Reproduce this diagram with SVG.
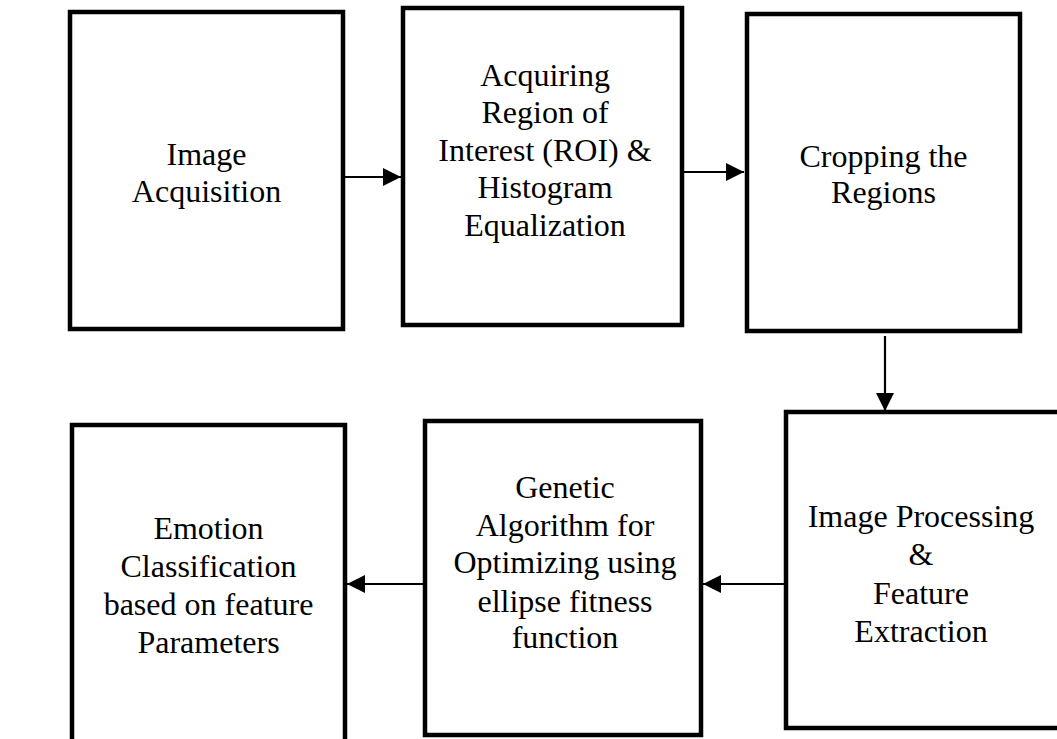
<svg xmlns="http://www.w3.org/2000/svg" width="1057" height="739" viewBox="0 0 1057 739">
<style>
.box{fill:#fff;stroke:#000;stroke-width:4.5}
.lbl{font-family:"Liberation Serif","Times New Roman",serif;font-size:32px;fill:#000;text-anchor:middle}
.conn{stroke:#000;stroke-width:2.2;fill:none;marker-end:url(#ah)}
</style>
<defs>
<marker id="ah" viewBox="0 0 18 18" refX="18" refY="9" markerWidth="18" markerHeight="18" markerUnits="userSpaceOnUse" orient="auto">
<path d="M0,0 L18,9 L0,18 Z" fill="#000"/>
</marker>
</defs>
<rect width="1057" height="739" fill="#fff"/>
<g id="n1">
<rect class="box" x="70" y="12" width="273" height="317"/>
<text class="lbl"><tspan x="206.5" y="165">Image</tspan><tspan x="206.5" y="202">Acquisition</tspan></text>
</g>
<g id="n2">
<rect class="box" x="403" y="8" width="279" height="317"/>
<text class="lbl"><tspan x="545" y="86">Acquiring</tspan><tspan x="545" y="123">Region of</tspan><tspan x="545" y="161">Interest (ROI) &amp;</tspan><tspan x="545" y="198">Histogram</tspan><tspan x="545" y="236">Equalization</tspan></text>
</g>
<g id="n3">
<rect class="box" x="747" y="14" width="273" height="317"/>
<text class="lbl"><tspan x="883.5" y="167">Cropping the</tspan><tspan x="883.5" y="203">Regions</tspan></text>
</g>
<g id="n4">
<rect class="box" x="786" y="412" width="290" height="316"/>
<text class="lbl"><tspan x="921" y="527">Image Processing</tspan><tspan x="921" y="565">&amp;</tspan><tspan x="921" y="604">Feature</tspan><tspan x="921" y="642">Extraction</tspan></text>
</g>
<g id="n5">
<rect class="box" x="425" y="421" width="276" height="314"/>
<text class="lbl"><tspan x="565" y="498">Genetic</tspan><tspan x="565" y="536">Algorithm for</tspan><tspan x="565" y="573">Optimizing using</tspan><tspan x="565" y="612">ellipse fitness</tspan><tspan x="565" y="648">function</tspan></text>
</g>
<g id="n6">
<rect class="box" x="72" y="425" width="273" height="330"/>
<text class="lbl"><tspan x="208.5" y="539">Emotion</tspan><tspan x="208.5" y="577">Classification</tspan><tspan x="208.5" y="615">based on feature</tspan><tspan x="208.5" y="653">Parameters</tspan></text>
</g>
<g id="connectors">
<line class="conn" x1="345" y1="177" x2="401" y2="177"/>
<line class="conn" x1="684" y1="172" x2="744" y2="172"/>
<line class="conn" x1="885" y1="336" x2="885" y2="411"/>
<line class="conn" x1="784" y1="584" x2="703" y2="584"/>
<line class="conn" x1="423" y1="584" x2="347" y2="584"/>
</g>
</svg>
